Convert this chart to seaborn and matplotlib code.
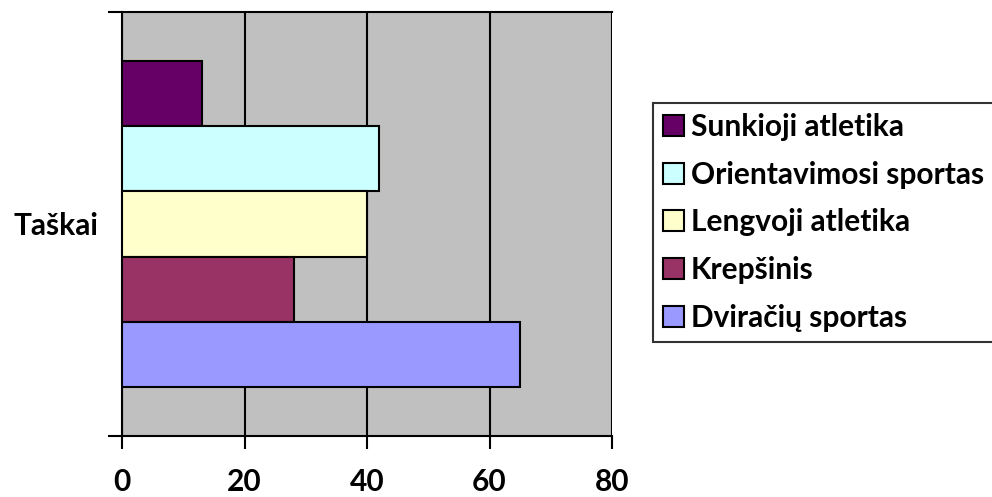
import pandas as pd
import seaborn as sns
import matplotlib.pyplot as plt
from matplotlib.ticker import FixedLocator

category = ["Taškai"]
sports = ["Sunkioji atletika", "Orientavimosi sportas", "Lengvoji atletika",
          "Krepšinis", "Dviračių sportas"]
points = [13, 42, 40, 28, 65]
colors = ["#660066", "#CCFFFF", "#FFFFCC", "#993366", "#9999FF"]

df = pd.DataFrame({"cat": category * len(sports), "sport": sports, "points": points})

plt.rcParams['font.family'] = ['Lato', 'DejaVu Sans']
plt.rcParams['font.weight'] = 'bold'
FS = 21.5

fig = plt.figure(figsize=(9.92, 4.97), dpi=100)
ax = fig.add_axes([122 / 992, 1 - 436 / 497, 490 / 992, 424 / 497])
ax.set_facecolor("#C0C0C0")

sns.barplot(data=df, y="cat", x="points", hue="sport", hue_order=sports,
            palette=colors, orient="h", width=0.77, edgecolor="black",
            linewidth=1.5, saturation=1, ax=ax, zorder=3)

ax.set_xlim(0, 80)
ax.set_ylim(0.5, -0.5)
ax.set_xticks([0, 20, 40, 60, 80])
ax.grid(axis="x", color="black", linewidth=1.5, zorder=1)
ax.set_axisbelow(True)
for s in ax.spines.values():
    s.set_linewidth(1.5)
    s.set_color("black")
ax.spines["right"].set_visible(False)
ax.tick_params(axis="x", length=9, width=1.5, pad=14, labelsize=FS)
ax.tick_params(axis="y", which="major", length=0, pad=17, labelsize=FS)
ax.yaxis.set_minor_locator(FixedLocator([-0.5, 0.5]))
ax.tick_params(axis="y", which="minor", length=10, width=1.5)
for t in ax.get_xticklabels() + ax.get_yticklabels():
    t.set_fontweight("bold")
ax.set_xlabel("")
ax.set_ylabel("")

ax.legend(loc="upper left", bbox_to_anchor=(653 / 992, 1 - 103 / 497),
          bbox_transform=fig.transFigure, borderaxespad=0, frameon=True,
          fancybox=False, edgecolor="black", handlelength=0.7,
          handleheight=0.7, handletextpad=0.23, labelspacing=0.66,
          borderpad=0.33, prop={"weight": "bold", "size": FS})
ax.get_legend().get_frame().set_linewidth(1.5)

fig.savefig("out.png", dpi=100)
